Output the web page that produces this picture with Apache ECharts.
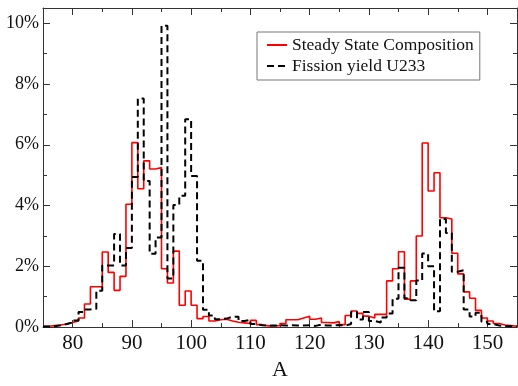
<!DOCTYPE html>
<html>
<head>
<meta charset="utf-8">
<script src="https://cdn.jsdelivr.net/npm/echarts@6/dist/echarts.min.js"></script>
<style>
  html, body { margin: 0; padding: 0; background: #fff; }
  #chart { width: 518px; height: 386px; }
</style>
</head>
<body>
<div id="chart"></div>
<script>
// mass number A (left edge of each unit bin)
const massNumbers = [
  75, 76, 77, 78, 79, 80, 81, 82, 83, 84,
  85, 86, 87, 88, 89, 90, 91, 92, 93, 94,
  95, 96, 97, 98, 99, 100, 101, 102, 103, 104,
  105, 106, 107, 108, 109, 110, 111, 112, 113, 114,
  115, 116, 117, 118, 119, 120, 121, 122, 123, 124,
  125, 126, 127, 128, 129, 130, 131, 132, 133, 134,
  135, 136, 137, 138, 139, 140, 141, 142, 143, 144,
  145, 146, 147, 148, 149, 150, 151, 152, 153, 154
];

// percent values per bin
const steadyState = [
  0.03, 0.05, 0.07, 0.10, 0.15, 0.20, 0.30, 0.76, 1.33, 1.33,
  2.47, 1.80, 1.21, 1.67, 4.04, 6.07, 4.55, 5.47, 5.20, 5.25,
  1.92, 1.45, 2.50, 0.72, 1.19, 0.72, 0.28, 0.35, 0.20, 0.24,
  0.26, 0.20, 0.16, 0.14, 0.12, 0.22, 0.08, 0.04, 0.04, 0.05,
  0.12, 0.24, 0.24, 0.30, 0.36, 0.26, 0.30, 0.15, 0.14, 0.18,
  0.08, 0.38, 0.53, 0.45, 0.36, 0.30, 0.42, 0.42, 1.52, 1.92,
  2.48, 0.92, 1.52, 3.00, 6.06, 4.48, 5.08, 3.60, 3.56, 2.43,
  1.75, 1.16, 0.95, 0.55, 0.30, 0.20, 0.12, 0.07, 0.05, 0.03
];

const fissionYieldU233 = [
  0.02, 0.03, 0.06, 0.10, 0.15, 0.22, 0.50, 0.58, 0.60, 1.20,
  2.03, 2.03, 3.06, 2.03, 2.60, 4.94, 7.52, 4.81, 2.41, 2.95,
  9.92, 1.60, 4.02, 4.32, 6.84, 4.97, 2.18, 0.57, 0.38, 0.26,
  0.28, 0.34, 0.34, 0.20, 0.24, 0.10, 0.06, 0.05, 0.05, 0.06,
  0.05, 0.06, 0.05, 0.05, 0.06, 0.04, 0.08, 0.05, 0.05, 0.07,
  0.05, 0.10, 0.50, 0.25, 0.50, 0.20, 0.15, 0.32, 0.45, 0.93,
  1.95, 0.95, 0.88, 1.53, 2.42, 2.00, 0.52, 3.56, 3.10, 1.82,
  1.87, 0.58, 0.35, 0.47, 0.18, 0.10, 0.05, 0.04, 0.03, 0.02
];

const xMajorTicks = [80, 90, 100, 110, 120, 130, 140, 150];
const xMinorTicks = [85, 95, 105, 115, 125, 135, 145];
const yMajorTicks = [0, 2, 4, 6, 8, 10];
const yMinorTicks = [1, 3, 5, 7, 9];

const serif = '"Liberation Serif", "Times New Roman", serif';
const frameColor = '#333';

// histogram steps: each bin spans [A, A+1)
function stepPoints(values) {
  const pts = massNumbers.map((a, i) => [a, values[i]]);
  pts.push([massNumbers[massNumbers.length - 1] + 1, values[values.length - 1]]);
  return pts;
}

function xAxisDef(position, ticks, len, showLine, labels) {
  return {
    type: 'value',
    position: position,
    min: 75,
    max: 155,
    axisLine: { show: showLine, onZero: false, lineStyle: { color: frameColor, width: 1 } },
    axisTick: { show: true, inside: true, length: len, customValues: ticks,
      lineStyle: { color: frameColor, width: 1 } },
    axisLabel: labels
      ? { show: true, customValues: ticks, margin: 6, fontFamily: serif, fontSize: 21, color: '#111' }
      : { show: false },
    splitLine: { show: false }
  };
}

function yAxisDef(position, ticks, len, showLine, labels) {
  return {
    type: 'value',
    position: position,
    min: 0,
    max: 10.5,
    axisLine: { show: showLine, onZero: false, lineStyle: { color: frameColor, width: 1 } },
    axisTick: { show: true, inside: true, length: len, customValues: ticks,
      lineStyle: { color: frameColor, width: 1 } },
    axisLabel: labels
      ? { show: true, customValues: ticks, margin: 4, fontFamily: serif, fontSize: 18, color: '#111',
          formatter: '{value}%' }
      : { show: false },
    splitLine: { show: false }
  };
}

const xAxes = [
  xAxisDef('bottom', xMajorTicks, 7, true, true),
  xAxisDef('top', xMajorTicks, 7, true, false),
  xAxisDef('bottom', xMinorTicks, 4, false, false),
  xAxisDef('top', xMinorTicks, 4, false, false)
];
xAxes[0].name = 'A';
xAxes[0].nameLocation = 'middle';
xAxes[0].nameGap = 24;
xAxes[0].nameTextStyle = { fontFamily: serif, fontSize: 22, color: '#111' };

const yAxes = [
  yAxisDef('left', yMajorTicks, 7, true, true),
  yAxisDef('right', yMajorTicks, 7, true, false),
  yAxisDef('left', yMinorTicks, 4, false, false),
  yAxisDef('right', yMinorTicks, 4, false, false)
];

const chart = echarts.init(document.getElementById('chart'));

const option = {
  animation: false,
  backgroundColor: '#fff',
  grid: { left: 43, right: 1, top: 8, bottom: 45 },
  legend: {
    orient: 'vertical',
    left: 257,
    top: 32,
    padding: [4, 6, 5, 9],
    itemGap: 3,
    itemWidth: 20,
    itemHeight: 14,
    itemStyle: { opacity: 0 },
    backgroundColor: '#fff',
    borderColor: '#777',
    borderWidth: 1,
    borderRadius: 0,
    textStyle: { fontFamily: serif, fontSize: 17.5, lineHeight: 17, color: '#111' },
    data: ['Steady State Composition', 'Fission yield U233']
  },
  xAxis: xAxes,
  yAxis: yAxes,
  series: [
    {
      name: 'Steady State Composition',
      type: 'line',
      step: 'end',
      symbol: 'none',
      xAxisIndex: 0,
      yAxisIndex: 0,
      data: stepPoints(steadyState),
      itemStyle: { color: '#ff0000' },
      lineStyle: { color: '#ff0000', width: 1.6 }
    },
    {
      name: 'Fission yield U233',
      type: 'line',
      step: 'end',
      symbol: 'none',
      xAxisIndex: 0,
      yAxisIndex: 0,
      data: stepPoints(fissionYieldU233),
      itemStyle: { color: '#000' },
      lineStyle: { color: '#000', width: 2, type: [7, 4] }
    }
  ]
};

chart.setOption(option);
</script>
</body>
</html>
